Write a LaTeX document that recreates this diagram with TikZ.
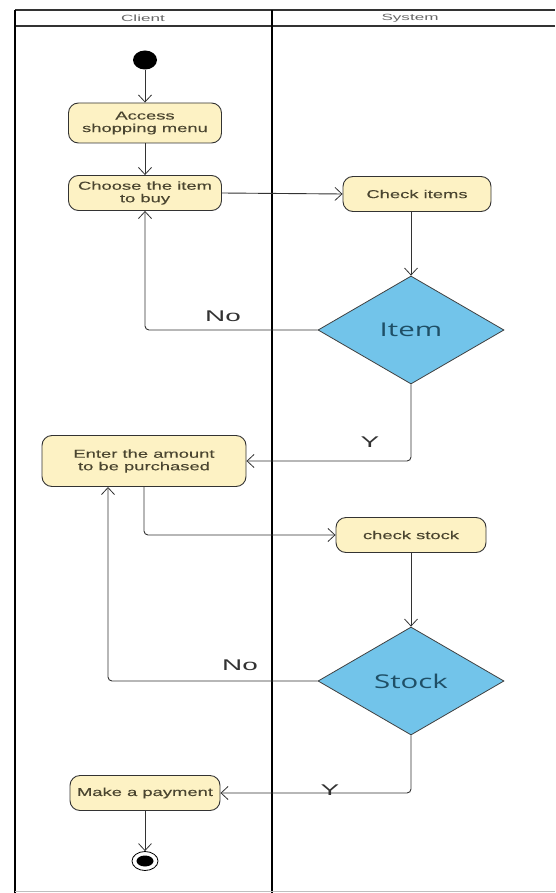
\documentclass[tikz,border=0pt]{standalone}
\usepackage{fontspec}
\setmainfont{Liberation Sans}
\newfontfamily\boxfont[FakeStretch=1.6,FakeBold=0.2]{Liberation Sans}
\newfontfamily\hdrfont[FakeStretch=1.9]{Liberation Sans}
\newfontfamily\decfont[FakeStretch=1.55]{Open Sans}
\newfontfamily\lblfont[FakeStretch=1.8]{Liberation Sans}
\usetikzlibrary{shapes.geometric,arrows.meta}
\definecolor{actfill}{HTML}{FDF2C4}
\definecolor{decfill}{HTML}{72C4EA}
\definecolor{dectext}{HTML}{1F4F66}
\definecolor{acttext}{HTML}{4A4530}
\begin{document}
\begin{tikzpicture}[x=1pt,y=-1pt,
  act/.style={draw=black!80, line width=0.9pt, fill=actfill, rounded corners=10pt,
    align=center, font=\boxfont\fontsize{11.5}{12.5}\selectfont, text=acttext, inner sep=2pt},
  dec/.style={diamond, draw=black!75, line width=0.8pt, fill=decfill, inner sep=0pt,
    minimum width=186pt, minimum height=108pt, font=\decfont\fontsize{19}{21}\selectfont, text=dectext},
  flow/.style={draw=black!80, line width=0.9pt, rounded corners=4pt,
    -{Straight Barb[length=7pt,width=13pt,line width=0.8pt]}},
  lbl/.style={font=\lblfont\fontsize{15.5}{17}\selectfont, text=black!80},
  lane/.style={draw=black, line width=1.8pt},
  hdr/.style={font=\hdrfont\fontsize{9}{10}\selectfont, text=black!60}
]
\useasboundingbox (0,0) rectangle (555,893);
% swimlanes
\draw[lane, draw=black!80] (15,10) -- (555,10);
\draw[lane, draw=black!80] (15,26) -- (555,26);
\draw[lane] (15,10) -- (15,893);
\draw[lane] (272,10) -- (272,893);
\draw[black!25, line width=0.6pt] (15,891) -- (555,891);
\node[hdr] (hc) at (143,18) {Client};
\node[hdr] (hs) at (410,18) {System};

% start
\node[ellipse, fill=black, minimum width=24pt, minimum height=19pt, inner sep=0pt] (start) at (145,60) {};
% activities
\node[act, minimum width=153pt, minimum height=40pt] (access) at (145,123) {Access\\shopping menu};
\node[act, minimum width=153pt, minimum height=35pt] (choose) at (145,193) {Choose the item\\to buy};
\node[act, minimum width=148pt, minimum height=35pt] (check) at (417,194) {Check items};
\node[dec] (item) at (411,330) {Item};
\node[act, minimum width=204pt, minimum height=51pt] (enter) at (144,461) {Enter the amount\\to be purchased};
\node[act, minimum width=150pt, minimum height=35pt] (cstock) at (411,535) {check stock};
\node[dec] (stock) at (411,681) {Stock};
\node[act, minimum width=150pt, minimum height=35pt] (pay) at (145,793) {Make a payment};
% end
\node[ellipse, draw=black, line width=0.8pt, minimum width=26pt, minimum height=19pt, inner sep=0pt] (end) at (145,861) {};
\node[ellipse, fill=black, minimum width=17pt, minimum height=11pt, inner sep=0pt] (endin) at (145,861) {};

% flows
\draw[flow] (start) -- (access);
\draw[flow] (access) -- (choose);
\draw[flow] (choose.east) -- (check.west);
\draw[flow] (check.south -| item.north) -- (item.north);
\draw[flow] (item.west) -| (choose.south);
\node[lbl] (no1) at (223,316) {No};
\draw[flow] (item.south) |- (enter.east);
\node[lbl] (y1) at (370,442) {Y};
\draw[flow] (enter.south) |- (cstock.west);
\draw[flow] (cstock.south) -- (stock.north);
\draw[flow] (stock.west) -| (108,487);
\node[lbl] (no2) at (240,665) {No};
\draw[flow] (stock.south) |- (pay.east);
\node[lbl] (y2) at (330,790) {Y};
\draw[flow] (pay) -- (end);
\end{tikzpicture}
\end{document}
